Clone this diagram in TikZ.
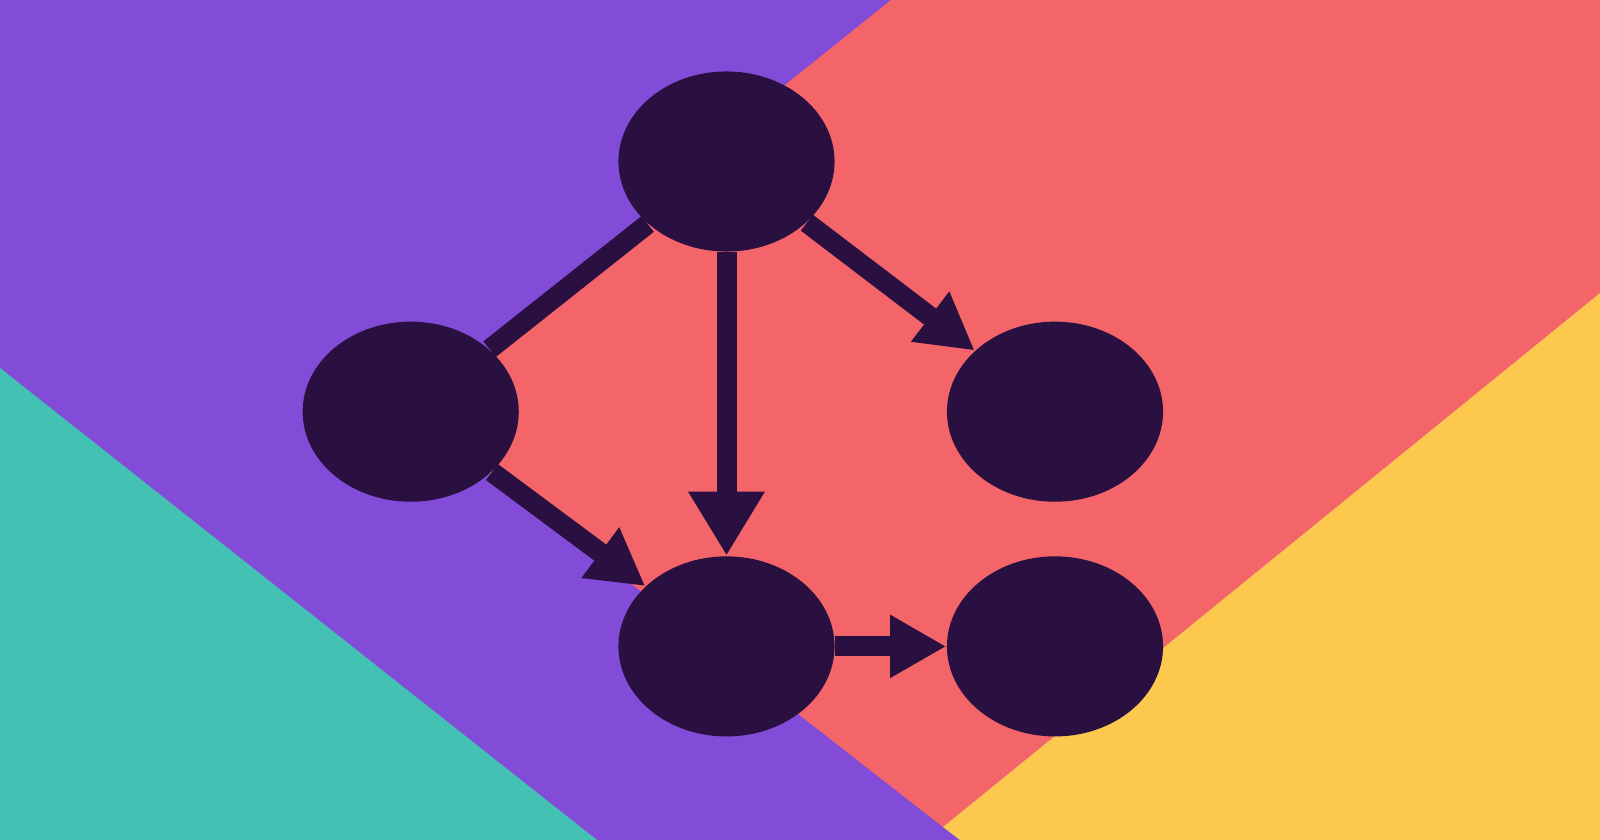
\documentclass[tikz,border=0pt]{standalone}
\usetikzlibrary{arrows.meta,shapes.geometric}

\definecolor{bgpurple}{HTML}{824CD9}
\definecolor{bgcoral}{HTML}{F4656A}
\definecolor{bgteal}{HTML}{43C2B4}
\definecolor{bgyellow}{HTML}{FDC84E}
\definecolor{vdark}{HTML}{2A1040}

\begin{document}
\begin{tikzpicture}[x=0.01cm,y=-0.01cm,
    vertex/.style={ellipse,fill=vdark,minimum width=2.16cm,minimum height=1.8cm,inner sep=0pt},
    edge/.style={draw=vdark,line width=2mm},
    head/.style={-{Triangle[length=5.6mm,width=5.9mm]}},
    bighead/.style={-{Triangle[length=6.4mm,width=7.2mm]}}]

    \useasboundingbox (0,0) rectangle (1600,840);

    % background
    \fill [bgpurple] (0,0) rectangle (1600,840);
    \fill [bgteal] (0,368) -- (597,840) -- (0,840) -- cycle;
    \fill [bgcoral] (891,0) -- (1600,0) -- (1600,293) -- (943,827) -- (410.7,411.7)
        -- (726.5,161.5) -- (760,105) -- cycle;
    \fill [bgyellow] (1600,293) -- (1600,840) -- (960,840) -- (943,827) -- cycle;

    \node [vertex] (topv) at (726.5,161.5) {};
    \node [vertex] (leftv) at (410.7,411.7) {};
    \node [vertex] (rightv) at (1055,411.7) {};
    \node [vertex] (midv) at (726.5,646.4) {};
    \node [vertex] (lastv) at (1055,646.4) {};

    \draw [edge] (topv) -- (leftv);
    \draw [edge,head] (topv) -- (rightv);
    \draw [edge,bighead] (topv) -- (midv);
    \draw [edge,head] (leftv) -- (midv);
    \draw [edge,head] (midv) -- (lastv);

\end{tikzpicture}
\end{document}
